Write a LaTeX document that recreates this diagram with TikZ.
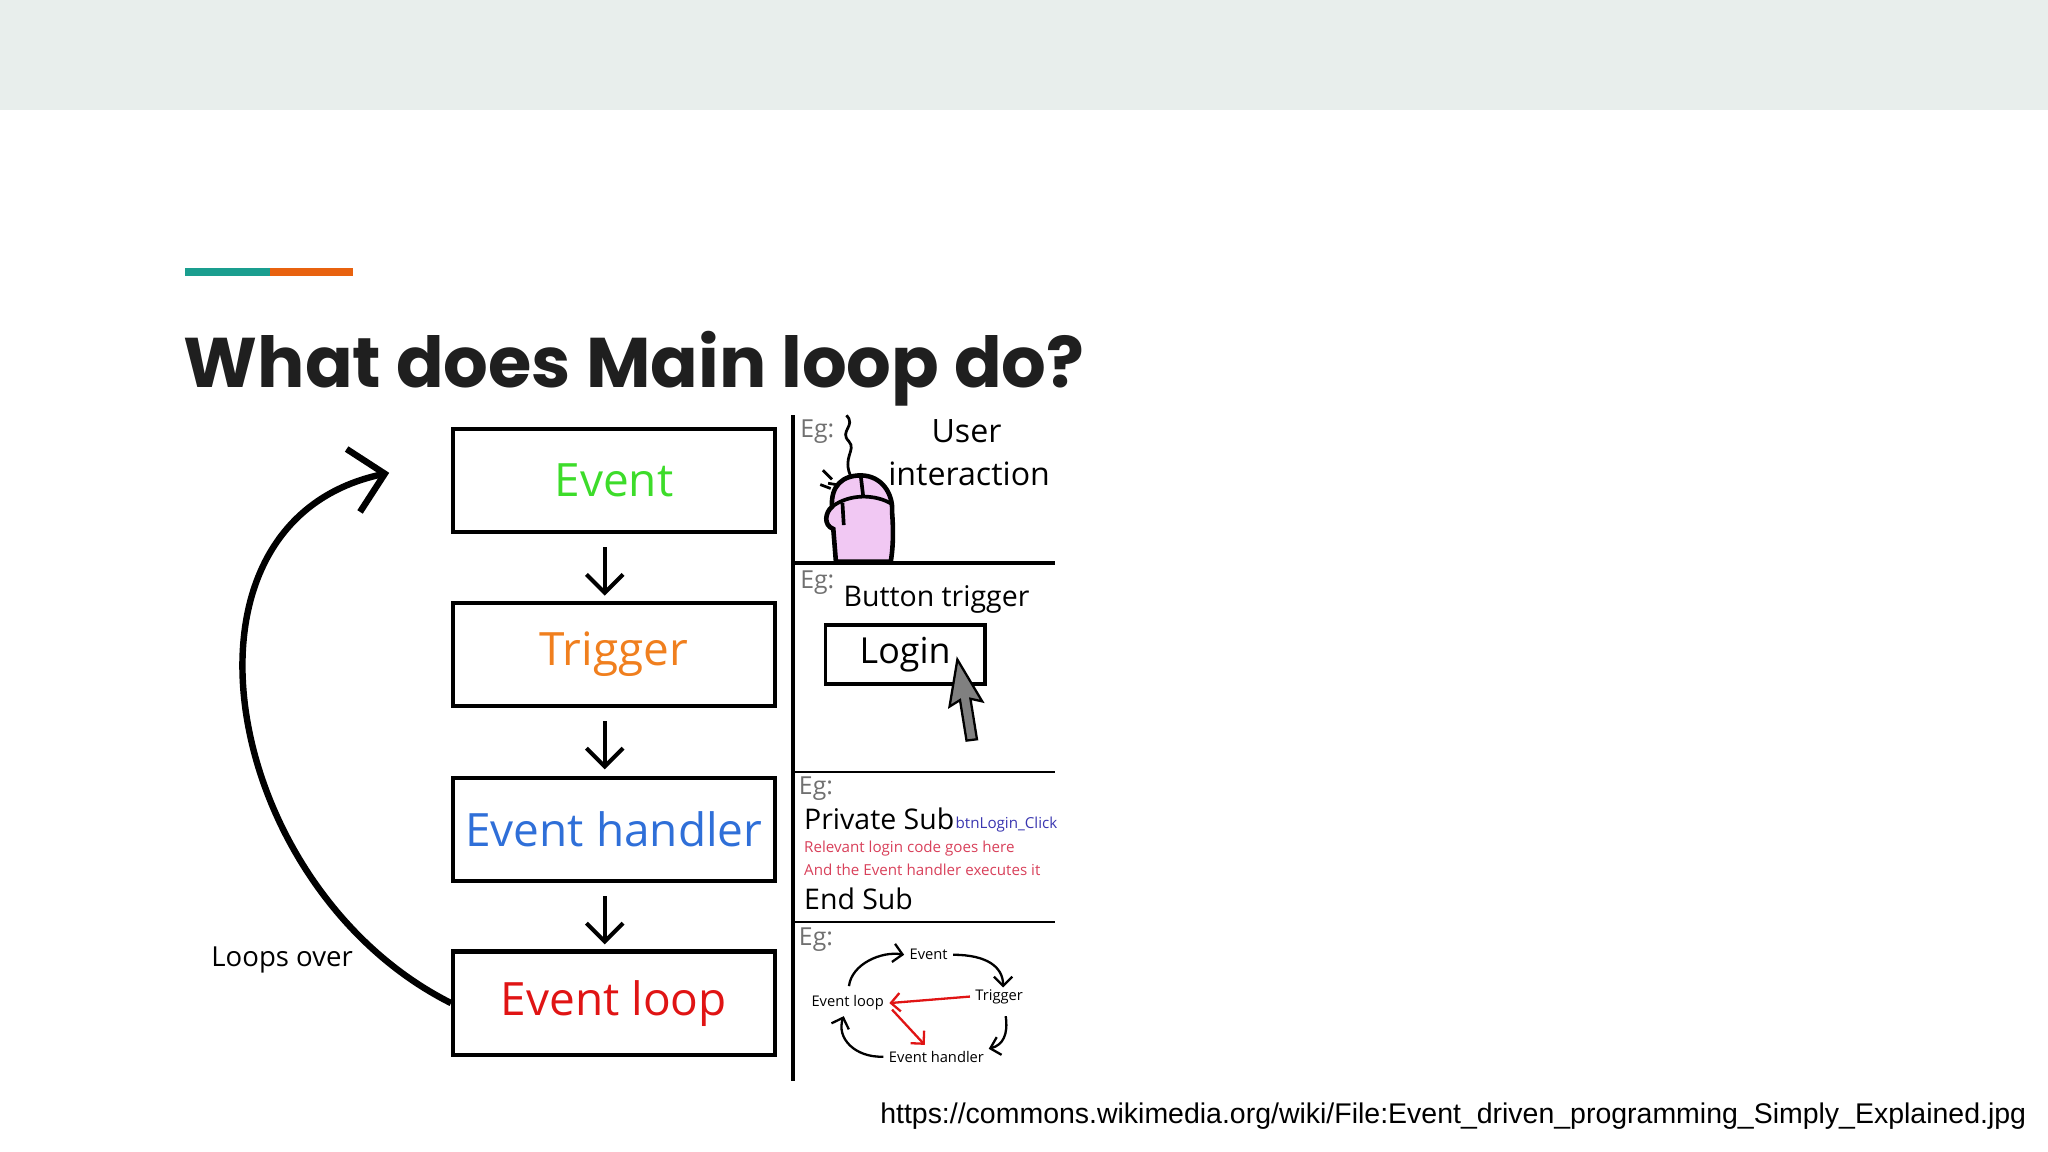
\documentclass[tikz,border=0pt]{standalone}
\usepackage{fontspec}
\setmainfont{Open Sans}
\newfontfamily\titlefont{Poppins}
\newfontfamily\urlfont{Liberation Sans}
\usetikzlibrary{arrows.meta}
\definecolor{bandgray}{HTML}{E8EEEC}
\definecolor{accteal}{HTML}{1A9E8F}
\definecolor{accorange}{HTML}{E8620F}
\definecolor{evgreen}{HTML}{3DDC2A}
\definecolor{evorange}{HTML}{F07F1E}
\definecolor{evblue}{HTML}{2F6FD8}
\definecolor{evred}{HTML}{E01414}
\definecolor{codered}{HTML}{D8405A}
\definecolor{codeblue}{HTML}{3A36B0}
\definecolor{mousepink}{HTML}{F1C8F3}
\definecolor{eggray}{HTML}{707070}
\tikzset{
  stagebox/.style={draw, line width=0.9pt, minimum width=2.46cm, minimum height=0.79cm, inner sep=0pt, font=\fontsize{10pt}{12pt}\selectfont},
  downarrow/.style={-{Straight Barb[length=4pt,width=8pt]}, line width=0.9pt},
  eglabel/.style={anchor=north west, inner sep=0pt, text=eggray, font=\fontsize{5.4pt}{6pt}\selectfont},
  minilabel/.style={inner sep=1pt, font=\fontsize{3.2pt}{4pt}\selectfont},
  miniarrow/.style={-{Straight Barb[length=2pt,width=4pt]}, line width=0.5pt}
}
\begin{document}
\begin{tikzpicture}[x=0.01cm,y=-0.01cm]
\useasboundingbox (0,0) rectangle (1568,882);
\fill[bandgray] (0,0) rectangle (1568,84);
\fill[accteal] (142,205) rectangle (207,211);
\fill[accorange] (207,205) rectangle (270,211);
\node[anchor=base west, inner sep=0pt, font=\titlefont\bfseries\fontsize{15.3pt}{18pt}\selectfont, text=black!88] (title) at (140,297) {What does Main loop do?};

% stages
\node[stagebox, text=evgreen] (event) at (470,368) {Event};
\node[stagebox, text=evorange] (trigger) at (470,501) {Trigger};
\node[stagebox, text=evblue] (handler) at (470,635) {Event handler};
\node[stagebox, text=evred] (loop) at (470,768) {Event loop};

\draw[downarrow] ([xshift=-0.07cm]event.south) ++(0,10) coordinate (a1) -- ++(0,37);
\draw[downarrow] ([xshift=-0.07cm]trigger.south) ++(0,10) coordinate (a2) -- ++(0,37);
\draw[downarrow] ([xshift=-0.07cm]handler.south) ++(0,10) coordinate (a3) -- ++(0,37);

% loop back
\coordinate (loophead) at (298,362);
\draw[line width=1.4pt, -{Straight Barb[length=7pt,width=14pt]}] (loop.west) .. controls (170,680) and (120,400) .. (loophead);
\node[font=\fontsize{6pt}{7pt}\selectfont] (loopsover) at (216,735) {Loops over};

% example column
\draw[line width=0.9pt] (607,318) -- (607,828);
\draw[line width=0.9pt] (607,431) -- (808,431);
\draw[line width=0.4pt] (607,591) -- (808,591);
\draw[line width=0.6pt] (607,706) -- (808,706);

\node[eglabel] (eg1) at (612,321) {Eg:};
\node[eglabel] (eg2) at (612,436) {Eg:};
\node[eglabel] (eg3) at (611,594) {Eg:};
\node[eglabel] (eg4) at (611,710) {Eg:};

% mouse
\draw[line width=0.6pt] (648,318) .. controls (656,326) and (642,330) .. (650,338) .. controls (656,345) and (644,350) .. (652,366);
\draw[line width=1pt, fill=mousepink] (640,430) -- (638,405) .. controls (630,402) and (632,392) .. (637,388) .. controls (636,372) and (645,364) .. (659,364) .. controls (675,364) and (684,378) .. (683,392) .. controls (684,405) and (684,418) .. (682,430) -- cycle;
\draw[line width=0.8pt] (637,388) .. controls (650,378) and (670,378) .. (683,386);
\draw[line width=0.8pt] (659,364) -- (661,381);
\draw[line width=0.8pt] (645,385) -- (646,402);
\draw[line width=0.6pt] (630,360) -- (637,367) (634,370) -- (640,371) (628,371) -- (636,374);
\node[font=\fontsize{7pt}{8pt}\selectfont] (user) at (740,330) {User};
\node[font=\fontsize{7pt}{8pt}\selectfont] (interaction) at (742,363) {interaction};

% button
\node[font=\fontsize{6.2pt}{7pt}\selectfont] (btntrig) at (717,459) {Button trigger};
\node[draw, line width=0.8pt, minimum width=1.22cm, minimum height=0.45cm, inner sep=0pt, font=\fontsize{7.8pt}{9pt}\selectfont] (login) at (693,501) {Login};
\draw[line width=0.5pt, fill=gray] (733,505) -- (752,537) -- (743,535) -- (748,566) -- (740,567) -- (735,536) -- (727,541) -- cycle;

% code
\node[anchor=base west, inner sep=0pt, font=\fontsize{6.2pt}{7pt}\selectfont] (privsub) at (615,635) {Private Sub};
\node[anchor=base west, inner sep=0pt, text=codeblue, font=\fontsize{3.3pt}{4pt}\selectfont] (btnclick) at (731,634) {btnLogin\_Click};
\node[anchor=base west, inner sep=0pt, text=codered, font=\fontsize{3.3pt}{4pt}\selectfont] (code1) at (615,653) {Relevant login code goes here};
\node[anchor=base west, inner sep=0pt, text=codered, font=\fontsize{3.3pt}{4pt}\selectfont] (code2) at (615,670) {And the Event handler executes it};
\node[anchor=base west, inner sep=0pt, font=\fontsize{6.2pt}{7pt}\selectfont] (endsub) at (615,696) {End Sub};

% mini cycle
\node[minilabel] (mevent) at (711,731) {Event};
\node[minilabel] (mtrigger) at (765,763) {Trigger};
\node[minilabel] (mhandler) at (717,809) {Event handler};
\node[minilabel] (mloop) at (649,768) {Event loop};
\draw[miniarrow] (650,755) .. controls (652,738) and (675,728) .. (mevent.west);
\draw[miniarrow] (mevent.east) .. controls (755,731) and (768,740) .. (768,756);
\draw[miniarrow] (770,778) .. controls (772,792) and (768,800) .. (757,803);
\draw[miniarrow] (mhandler.west) .. controls (655,810) and (640,795) .. (646,778);
\draw[miniarrow, evred] (mtrigger.west) -- (mloop.east);
\draw[miniarrow, evred] (683,773) -- (708,800);

\node[anchor=base east, inner sep=0pt, font=\urlfont\fontsize{6.2pt}{7pt}\selectfont] (url) at (1552,860) {https://commons.wikimedia.org/wiki/File:Event\_driven\_programming\_Simply\_Explained.jpg};
\end{tikzpicture}
\end{document}
